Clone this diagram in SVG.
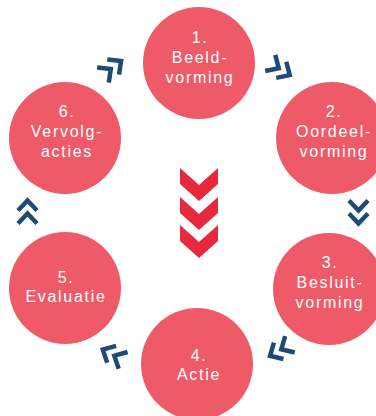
<svg xmlns="http://www.w3.org/2000/svg" width="376" height="416" viewBox="0 0 376 416">
<defs>
<style>
.node circle{fill:#ef5a69}
.node text{fill:#ffffff;font-family:"Liberation Sans",Arial,sans-serif;font-size:16px;letter-spacing:1.7px;text-anchor:middle}
.blue{fill:none;stroke:#1e4a75;stroke-width:4.5;stroke-linejoin:miter;stroke-linecap:butt}
.red{fill:#e8293d}
</style>
<g id="pair">
<polyline points="-9.5,-1.5 0,-11.5 9.5,-1.5"/>
<polyline points="-9.5,11.5 0,1.5 9.5,11.5"/>
</g>
</defs>
<rect width="376" height="416" fill="#ffffff"/>
<g id="connectors">
<g class="blue">
<use href="#pair" transform="translate(27.5,212) rotate(0)"/>
<use href="#pair" transform="translate(112,68) rotate(52)"/>
<use href="#pair" transform="translate(280,69) rotate(122)"/>
<use href="#pair" transform="translate(358.5,212) rotate(180)"/>
<use href="#pair" transform="translate(280,350) rotate(240)"/>
<use href="#pair" transform="translate(113,355) rotate(298)"/>
</g>
<g class="red">
<polygon points="180,168 199,185 218,168 218,184 199,201 180,184"/>
<polygon points="180,197 199,214 218,197 218,213 199,230 180,213"/>
<polygon points="180,225 199,242 218,225 218,241 199,258 180,241"/>
</g>
</g>
<g id="node1" class="node">
<circle cx="199" cy="63" r="56"/>
<text x="200" y="43">1.</text>
<text x="200" y="63">Beeld-</text>
<text x="200" y="83">vorming</text>
</g>
<g id="node2" class="node">
<circle cx="332" cy="138" r="56"/>
<text x="334" y="117">2.</text>
<text x="334" y="137">Oordeel-</text>
<text x="334" y="157">vorming</text>
</g>
<g id="node3" class="node">
<circle cx="329" cy="289" r="56"/>
<text x="330" y="268">3.</text>
<text x="330" y="288">Besluit-</text>
<text x="330" y="308">vorming</text>
</g>
<g id="node4" class="node">
<circle cx="197" cy="364" r="56"/>
<text x="199" y="361">4.</text>
<text x="199" y="380">Actie</text>
</g>
<g id="node5" class="node">
<circle cx="65" cy="288" r="56"/>
<text x="66" y="283">5.</text>
<text x="66" y="302">Evaluatie</text>
</g>
<g id="node6" class="node">
<circle cx="65" cy="138" r="56"/>
<text x="67" y="117">6.</text>
<text x="67" y="137">Vervolg-</text>
<text x="67" y="157">acties</text>
</g>
</svg>
